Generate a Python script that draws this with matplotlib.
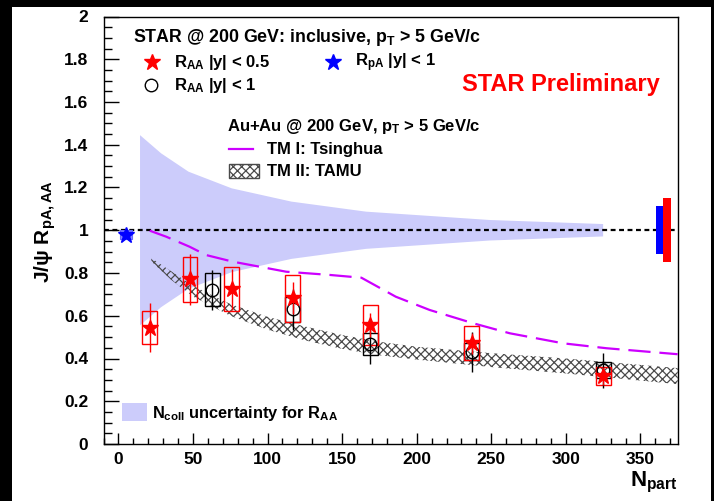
import matplotlib
matplotlib.use("Agg")
import matplotlib.pyplot as plt
from matplotlib.patches import Rectangle
from matplotlib.lines import Line2D
from matplotlib.ticker import MultipleLocator, FormatStrFormatter

# ---------------- data ----------------
# R_AA, |y| < 0.5 (filled red stars)
npart_star = [21, 48, 76, 117, 169, 237, 325]
raa_star = [0.544, 0.770, 0.724, 0.681, 0.557, 0.471, 0.318]
raa_star_stat = [0.115, 0.120, 0.095, 0.075, 0.055, 0.050, 0.040]
raa_star_sys = [0.077, 0.106, 0.103, 0.110, 0.093, 0.080, 0.044]

# R_AA, |y| < 1 (open circles)
npart_circ = [63, 117, 169, 237, 325]
raa_circ = [0.721, 0.630, 0.468, 0.432, 0.345]
raa_circ_stat = [0.092, 0.097, 0.094, 0.094, 0.082]
raa_circ_sys = [0.077, 0.059, 0.053, 0.040, 0.037]

# R_pA, |y| < 1 (blue star)
npart_pa = [5]
rpa = [0.98]
rpa_stat = [0.012]
rpa_sys = [0.02]

# N_coll uncertainty band around unity
npart_ncoll = [14.5, 28.6, 47, 76, 116, 166, 249, 325]
ncoll_unc = [0.445, 0.360, 0.274, 0.196, 0.134, 0.087, 0.048, 0.029]

# Global uncertainties (pA blue, AA red)
glob_pa = 0.113
glob_aa = 0.150

# TM I: Tsinghua
npart_tsing = [21, 32, 47.7, 58.8, 76.7, 112.5, 141.6, 162.9, 186, 208.7, 237.8, 262.4, 298.2, 327.3, 375]
raa_tsing = [0.998, 0.970, 0.923, 0.884, 0.853, 0.806, 0.791, 0.778, 0.689, 0.627, 0.565, 0.518, 0.471, 0.448, 0.420]

# TM II: TAMU band
npart_tamu = [22, 35, 50, 75, 100, 125, 150, 175, 200, 250, 300, 375]
tamu_hi = [0.870, 0.810, 0.740, 0.655, 0.595, 0.550, 0.510, 0.478, 0.455, 0.425, 0.400, 0.355]
tamu_lo = [0.855, 0.770, 0.690, 0.600, 0.535, 0.485, 0.445, 0.415, 0.395, 0.360, 0.330, 0.280]

# ---------------- style ----------------
plt.rcParams['font.family'] = ['Liberation Sans', 'DejaVu Sans']
plt.rcParams['font.weight'] = 'bold'
plt.rcParams['mathtext.fontset'] = 'custom'
plt.rcParams['mathtext.rm'] = 'Liberation Sans:bold'
plt.rcParams['mathtext.bf'] = 'Liberation Sans:bold'
plt.rcParams['mathtext.it'] = 'Liberation Sans:bold'
plt.rcParams['mathtext.sf'] = 'Liberation Sans:bold'
plt.rcParams['mathtext.default'] = 'rm'
plt.rcParams['hatch.linewidth'] = 0.9

HATCH_COLOR = '#4a4a4a'
W, H = 714, 501
fig = plt.figure(figsize=(W / 100, H / 100), dpi=100, facecolor='black')


def fx(x):
    return x / W


def fy(y):
    return 1 - y / H


# white canvas inside the black frame
fig.add_artist(Rectangle((fx(12), 0), fx(711) - fx(12), fy(7), transform=fig.transFigure,
                         facecolor='white', edgecolor='none', zorder=0))

ax = fig.add_axes([fx(103.5), fy(444), fx(677.7) - fx(103.5), fy(16.5) - fy(444)])
ax.set_facecolor('white')
ax.set_xlim(-10, 375)
ax.set_ylim(0, 2)

# N_coll band
band_lo = [1 - u for u in ncoll_unc]
band_hi = [1 + u for u in ncoll_unc]
ax.fill_between(npart_ncoll, band_lo, band_hi, facecolor='#ccccfb', edgecolor='none', zorder=1)

# unity line
ax.axhline(1.0, color='black', lw=1.6, ls=(0, (2.2, 1.6)), zorder=2)

# TAMU hatched band
ax.fill_between(npart_tamu, tamu_lo, tamu_hi, facecolor='none', edgecolor=HATCH_COLOR,
                hatch='xxxx', linewidth=0, zorder=2)

# Tsinghua curve
ax.plot(npart_tsing, raa_tsing, color='#cc00ff', lw=1.6, ls=(0, (10, 4)), zorder=3)

# systematic boxes
half_w = 5.0
for x, y, s in zip(npart_circ, raa_circ, raa_circ_sys):
    ax.add_patch(Rectangle((x - half_w, y - s), 2 * half_w, 2 * s, facecolor='none',
                           edgecolor='black', lw=1.0, zorder=4))
for x, y, s in zip(npart_star, raa_star, raa_star_sys):
    ax.add_patch(Rectangle((x - half_w, y - s), 2 * half_w, 2 * s, facecolor='none',
                           edgecolor='#ff0000', lw=1.0, zorder=5))
for x, y, s in zip(npart_pa, rpa, rpa_sys):
    ax.add_patch(Rectangle((x - 4, y - s), 8, 2 * s, facecolor='#8888ff',
                           edgecolor='#6666ff', lw=0.8, zorder=4))

# points with statistical errors
ax.errorbar(npart_circ, raa_circ, yerr=raa_circ_stat, fmt='o', ms=9, mfc='none',
            mec='black', mew=1.0, ecolor='black', elinewidth=1.0, capsize=0, zorder=6)
ax.errorbar(npart_star, raa_star, yerr=raa_star_stat, fmt='*', ms=12, color='#ff0000',
            mec='#ff0000', ecolor='#ff0000', elinewidth=1.0, capsize=0, zorder=7)
ax.errorbar(npart_pa, rpa, yerr=rpa_stat, fmt='*', ms=12, color='#0000ff',
            mec='#0000ff', ecolor='#0000ff', elinewidth=1.0, capsize=0, zorder=7)

# global uncertainty boxes
ax.add_patch(Rectangle((360.2, 1 - glob_pa), 4.9, 2 * glob_pa, facecolor='#0000ff',
                       edgecolor='none', zorder=5))
ax.add_patch(Rectangle((365.1, 1 - glob_aa), 5.2, 2 * glob_aa, facecolor='#ff0000',
                       edgecolor='none', zorder=5))

# axes and ticks
for side in ('top', 'right', 'left', 'bottom'):
    ax.spines[side].set_color('black')
    ax.spines[side].set_linewidth(1.0)
ax.xaxis.set_major_locator(MultipleLocator(50))
ax.xaxis.set_minor_locator(MultipleLocator(10))
ax.yaxis.set_major_locator(MultipleLocator(0.2))
ax.yaxis.set_minor_locator(MultipleLocator(0.05))
ax.xaxis.set_major_formatter(FormatStrFormatter('%g'))
ax.yaxis.set_major_formatter(FormatStrFormatter('%g'))
ax.tick_params(axis='both', which='both', direction='in', top=False, right=False,
               labelsize=12.5, width=1.0, color='black')
ax.tick_params(axis='x', which='major', length=8, pad=6)
ax.tick_params(axis='x', which='minor', length=4)
ax.tick_params(axis='y', which='major', length=11, pad=11)
ax.tick_params(axis='y', which='minor', length=5.5)
for lab in ax.get_xticklabels() + ax.get_yticklabels():
    lab.set_fontweight('bold')

# axis titles
fig.text(fx(678), fy(486), r'N$_{\rm part}$', ha='right', va='baseline', fontsize=16,
         fontweight='bold')
fig.text(fx(45), fy(231), r'J/$\psi$ R$_{\rm pA,AA}$', rotation=90, ha='center',
         va='center', fontsize=15, fontweight='bold')

# legend block
fs = 12.0
fig.text(fx(133), fy(42.5), r'STAR @ 200 GeV: inclusive, p$_{\rm T}$ > 5 GeV/c',
         fontsize=12.8, ha='left', va='baseline')
fig.add_artist(Line2D([fx(152)], [fy(61.7)], marker='*', ms=12, color='#ff0000',
                      ls='none', transform=fig.transFigure))
fig.text(fx(174), fy(66.7), r'R$_{\rm AA}$ |y| < 0.5', fontsize=fs, ha='left', va='baseline')
fig.add_artist(Line2D([fx(333.3)], [fy(61.7)], marker='*', ms=12, color='#0000ff',
                      ls='none', transform=fig.transFigure))
fig.text(fx(355), fy(66.7), r'R$_{\rm pA}$ |y| < 1', fontsize=fs, ha='left', va='baseline')
fig.add_artist(Line2D([fx(150.7)], [fy(85)], marker='o', ms=9, mfc='none', mec='black',
                      mew=1.0, ls='none', transform=fig.transFigure))
fig.text(fx(174), fy(90), r'R$_{\rm AA}$ |y| < 1', fontsize=fs, ha='left', va='baseline')

fig.text(fx(462), fy(90.7), 'STAR Preliminary', color='#ff0000', fontsize=17,
         ha='left', va='baseline', fontweight='bold')

fig.text(fx(226.7), fy(131), r'Au+Au @ 200 GeV, p$_{\rm T}$ > 5 GeV/c', fontsize=fs,
         ha='left', va='baseline')
fig.add_artist(Line2D([fx(229.3), fx(253.3)], [fy(149.3), fy(149.3)], color='#cc00ff',
                      lw=1.6, transform=fig.transFigure))
fig.text(fx(266.7), fy(154), 'TM I: Tsinghua', fontsize=fs, ha='left', va='baseline')
fig.add_artist(Rectangle((fx(229.3), fy(178.3)), fx(259) - fx(229.3), fy(164) - fy(178.3),
                         facecolor='none', edgecolor=HATCH_COLOR, hatch='xxxx', lw=1.0,
                         transform=fig.transFigure))
fig.text(fx(266.7), fy(176), 'TM II: TAMU', fontsize=fs, ha='left', va='baseline')

fig.add_artist(Rectangle((fx(121.7), fy(420.7)), fx(146.7) - fx(121.7), fy(403.3) - fy(420.7),
                         facecolor='#ccccfb', edgecolor='none', transform=fig.transFigure))
fig.text(fx(152), fy(418), r'N$_{\rm coll}$ uncertainty for R$_{\rm AA}$', fontsize=11.8,
         ha='left', va='baseline')

fig.savefig('out.png', dpi=100, facecolor='black')
